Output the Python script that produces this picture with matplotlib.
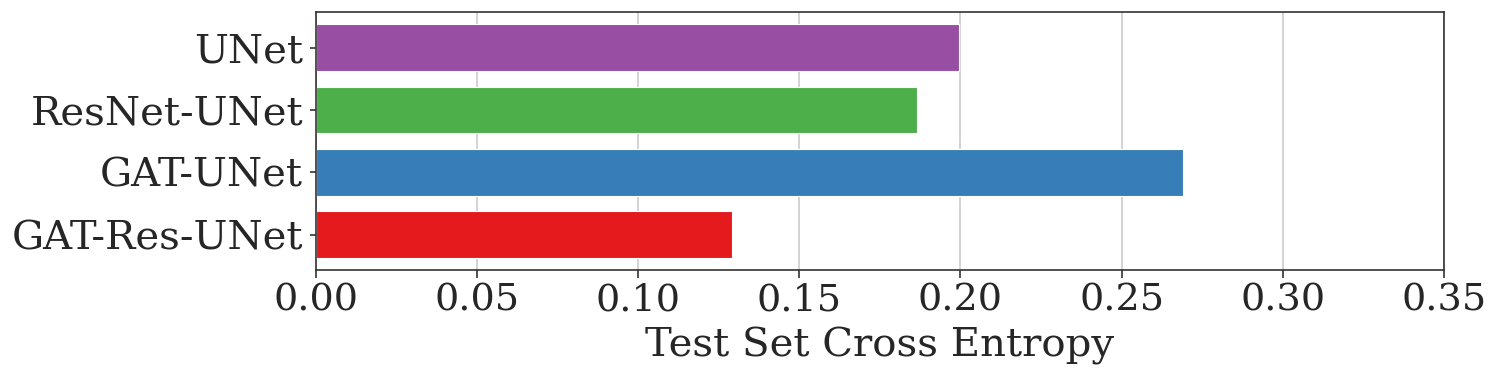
import matplotlib.pyplot as plt

# Model names and test cross entropy values (top to bottom)
models = ['UNet', 'ResNet-UNet', 'GAT-UNet', 'GAT-Res-UNet']
cross_entropy = [0.1995, 0.1866, 0.2690, 0.1290]
colors = ['#984ea3', '#4daf4a', '#377eb8', '#e41a1c']

plt.rcParams['font.family'] = ['DejaVu Serif']

fig, ax = plt.subplots(figsize=(14.99, 3.78), dpi=100)
fig.subplots_adjust(left=0.2107, right=0.9633, top=0.967, bottom=0.286)

ypos = range(len(models))
ax.barh(ypos, cross_entropy, height=0.75, color=colors,
        edgecolor='white', linewidth=0.8, zorder=2)
ax.invert_yaxis()
ax.set_yticks(list(ypos))
ax.set_yticklabels(models)

ax.set_xlim(0, 0.35)
ax.set_xticks([0.00, 0.05, 0.10, 0.15, 0.20, 0.25, 0.30, 0.35])
ax.set_xticklabels(['0.00', '0.05', '0.10', '0.15', '0.20', '0.25', '0.30', '0.35'])
ax.set_xlabel('Test Set Cross Entropy', fontsize=29, color='#262626', labelpad=6)

ax.tick_params(axis='x', labelsize=27.5, colors='#262626',
               length=6, width=1.2, color='#333333', pad=3)
ax.tick_params(axis='y', labelsize=29, colors='#262626',
               length=4.3, width=1.2, color='#333333', pad=5)

ax.grid(axis='x', color='#cccccc', linewidth=1.2, zorder=0)
ax.set_axisbelow(True)
for s in ax.spines.values():
    s.set_color('#333333')
    s.set_linewidth(1.2)

plt.savefig('out.png', dpi=100)
